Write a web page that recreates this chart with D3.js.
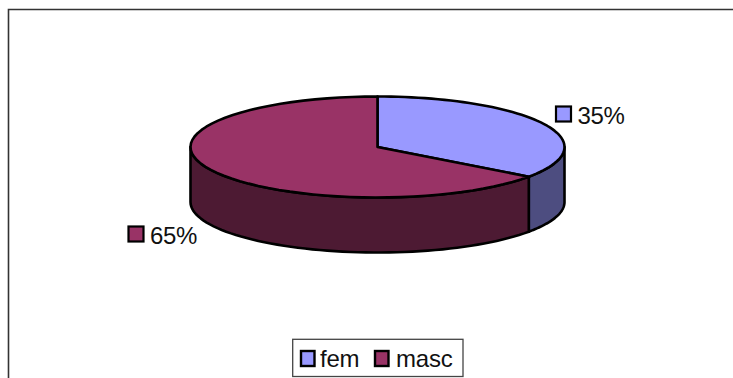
<!DOCTYPE html>
<html>
<head>
<meta charset="utf-8">
<script src="https://cdn.jsdelivr.net/npm/d3@7/dist/d3.min.js"></script>
<style>
html,body{margin:0;padding:0;background:#fff;}
svg{display:block;}
text{font-family:"Liberation Sans",Arial,sans-serif;fill:#111;}
</style>
</head>
<body>
<script>
// Share of respondents by gender
const categories = ["fem", "masc"];
const shares = [35, 65];
const topColors = ["#9999ff", "#993366"];
const sideColors = ["#4d4d80", "#4d1a33"];
const percentLabels = ["35%", "65%"];

const W = 733, H = 378;
const cx = 377.5, cy = 147, rx = 187, ry = 50.5, depth = 55;

const svg = d3.select("body").append("svg").attr("width", W).attr("height", H);

// Chart frame, open at the bottom and right where the page cuts it off
svg.append("path")
  .attr("d", "M8.5,378V9.5H733")
  .attr("fill", "none").attr("stroke", "#333").attr("stroke-width", 1.6);

const arcs = d3.pie().value(d => d).sort(null)(shares);

// Project a pie angle (clockwise from 12 o'clock) onto the tilted ellipse
const px = a => cx + rx * Math.sin(a);
const py = a => cy - ry * Math.cos(a);

function arcPoints(a0, a1, dy) {
  return d3.range(0, 61).map(i => {
    const a = a0 + (a1 - a0) * i / 60;
    return [px(a), py(a) + dy];
  });
}
const line = d3.line();
const outline = sel => sel
  .attr("stroke", "#000").attr("stroke-width", 2.6).attr("stroke-linejoin", "round");

// Side wall: only the part of the rim facing the viewer
arcs.forEach((d, i) => {
  const a0 = Math.max(d.startAngle, Math.PI / 2);
  const a1 = Math.min(d.endAngle, 3 * Math.PI / 2);
  if (a1 <= a0) return;
  const pts = arcPoints(a0, a1, 0).concat(arcPoints(a0, a1, depth).reverse());
  svg.append("path").attr("d", line(pts) + "Z").attr("fill", sideColors[i]).call(outline);
});

// Top faces
arcs.forEach((d, i) => {
  const pts = [[cx, cy]].concat(arcPoints(d.startAngle, d.endAngle, 0));
  svg.append("path").attr("d", line(pts) + "Z").attr("fill", topColors[i]).call(outline);
});

// Data labels with their colour keys
const labelPos = [
  {kx: 556, ky: 106.5, tx: 577.5, ty: 123.5},
  {kx: 128.5, ky: 226.5, tx: 150, ty: 243.5}
];
percentLabels.forEach((t, i) => {
  svg.append("rect")
    .attr("x", labelPos[i].kx).attr("y", labelPos[i].ky)
    .attr("width", 15).attr("height", 15)
    .attr("fill", topColors[i]).attr("stroke", "#000").attr("stroke-width", 2.2);
  svg.append("text").attr("x", labelPos[i].tx).attr("y", labelPos[i].ty)
    .attr("font-size", 24).attr("letter-spacing", -0.4).text(t);
});

// Legend box
svg.append("rect")
  .attr("x", 292.7).attr("y", 339.3).attr("width", 170.3).attr("height", 37.2)
  .attr("fill", "#fff").attr("stroke", "#444").attr("stroke-width", 1.3);
const legendPos = [{kx: 301, tx: 320}, {kx: 375, tx: 396}];
categories.forEach((c, i) => {
  svg.append("rect")
    .attr("x", legendPos[i].kx).attr("y", 351)
    .attr("width", 13.5).attr("height", 15)
    .attr("fill", topColors[i]).attr("stroke", "#000").attr("stroke-width", 2.4);
  svg.append("text").attr("x", legendPos[i].tx).attr("y", 367)
    .attr("font-size", 24).attr("letter-spacing", -0.2).text(c);
});
</script>
</body>
</html>
